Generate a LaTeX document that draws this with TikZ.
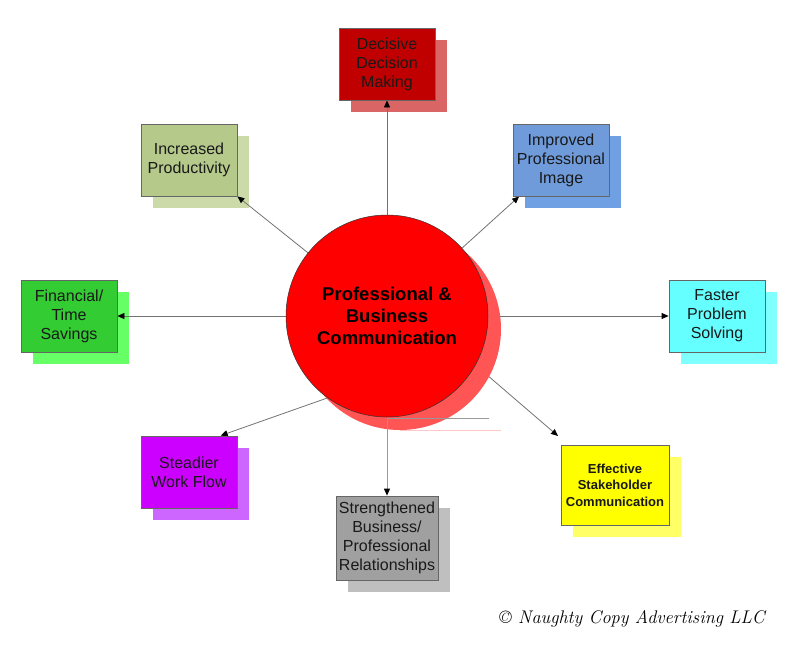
\documentclass[tikz,border=0pt]{standalone}
\usepackage{fontspec}
\newfontfamily\arialfont{Liberation Sans}
\usetikzlibrary{arrows.meta}
\pgfdeclarelayer{back}
\pgfdeclarelayer{lines}
\pgfsetlayers{back,lines,main}

\definecolor{decfill}{HTML}{C00000}
\definecolor{decshade}{HTML}{D96565}
\definecolor{incfill}{HTML}{B5C98B}
\definecolor{incshade}{HTML}{CCDAAA}
\definecolor{impfill}{HTML}{6F9BDB}
\definecolor{impshade}{HTML}{6FA0E3}
\definecolor{fasfill}{HTML}{66FFFF}
\definecolor{fasshade}{HTML}{80FFFF}
\definecolor{finfill}{HTML}{33CC33}
\definecolor{finshade}{HTML}{66FF66}
\definecolor{stefill}{HTML}{CC00FF}
\definecolor{steshade}{HTML}{CC66FF}
\definecolor{strfill}{HTML}{A0A0A0}
\definecolor{strshade}{HTML}{BFBFBF}
\definecolor{efffill}{HTML}{FFFF00}
\definecolor{effshade}{HTML}{FFFF66}
\definecolor{pbcshade}{HTML}{FF5555}

\begin{document}
\begin{tikzpicture}[x=1pt, y=-1pt]
    \useasboundingbox (0,0) rectangle (796,670);

    \begin{pgfonlayer}{back}
        \begin{scope}[every node/.style={rectangle, draw=none, minimum width=96pt, minimum height=72pt, inner sep=0pt}]
            \node[fill=decshade] (dm-s) at (399,76) {};
            \node[fill=incshade] (ip-s) at (201,172) {};
            \node[fill=impshade] (pi-s) at (573,172) {};
            \node[fill=fasshade] (fp-s) at (729,328) {};
            \node[fill=finshade] (ft-s) at (81,328) {};
            \node[fill=steshade] (sw-s) at (201,484) {};
            \node[fill=strshade, minimum width=102pt, minimum height=84pt] (sb-s) at (399,550) {};
            \node[fill=effshade, minimum width=108pt, minimum height=80pt] (es-s) at (627,497) {};
        \end{scope}
    \end{pgfonlayer}

    \begin{scope}[every node/.style={rectangle, draw=black!60, line width=0.8pt, minimum width=96pt, minimum height=72pt, inner sep=0pt, align=center, text=black!90, font=\arialfont\fontsize{16}{19}\selectfont}]
        \node[fill=decfill] (dm) at (387,64) {Decisive\\Decision\\Making};
        \node[fill=incfill] (ip) at (189,160) {Increased\\Productivity};
        \node[fill=impfill] (pi) at (561,160) {Improved\\Professional\\Image};
        \node[fill=fasfill] (fp) at (717,316) {Faster\\Problem\\Solving};
        \node[fill=finfill] (ft) at (69,316) {Financial/\\Time\\Savings};
        \node[fill=stefill] (sw) at (189,472) {Steadier\\Work Flow};
        \node[fill=strfill, minimum width=102pt, minimum height=84pt] (sb) at (387,538) {Strengthened\\Business/\\Professional\\Relationships};
        \node[fill=efffill, minimum width=108pt, minimum height=80pt, font=\arialfont\bfseries\fontsize{13}{16.5}\selectfont] (es) at (615,485) {Effective\\Stakeholder\\Communication};
    \end{scope}

    \node[circle, fill=pbcshade, minimum size=202pt, inner sep=0pt] (pbc-s) at (400,329) {};
    \node[circle, fill=red, draw=black!80, line width=0.5pt, minimum size=202pt, inner sep=0pt, align=center, font=\arialfont\bfseries\fontsize{18.5}{22}\selectfont] (pbc) at (387,316) {Professional \&\\Business\\Communication};

    \coordinate (es-tip) at (558,436);
    \coordinate (sb-bend) at (489,418);

    \begin{pgfonlayer}{lines}
        \begin{scope}[every edge/.style={draw=black!55, line width=0.8pt}]
            \path [-{Triangle[length=7pt, width=6pt, color=black]}] (pbc) edge (dm);
            \path [-{Triangle[length=7pt, width=6pt, color=black]}] (pbc) edge (ip.south east);
            \path [-{Triangle[length=7pt, width=6pt, color=black]}] (pbc) edge (pi.221);
            \path [-{Triangle[length=7pt, width=6pt, color=black]}] (pbc) edge (fp);
            \path [-{Triangle[length=7pt, width=6pt, color=black]}] (pbc) edge (ft);
            \path [-{Triangle[length=7pt, width=6pt, color=black]}] (pbc.234) edge (sw.49);
            \path [-{Triangle[length=7pt, width=6pt, color=black]}] (pbc.331) edge (es-tip);
        \end{scope}
    \end{pgfonlayer}

    \draw [draw=black!40, line width=1pt, -{Triangle[length=7pt, width=6pt, color=black]}] (sb-bend) -| (sb.north);
    \draw [draw=red!22, line width=1pt] (400,430) -- (501,430);

    \node[font=\fontsize{18.3}{21}\selectfont\itshape] (copy) at (632,619) {\copyright{} Naughty Copy Advertising LLC};
\end{tikzpicture}
\end{document}
